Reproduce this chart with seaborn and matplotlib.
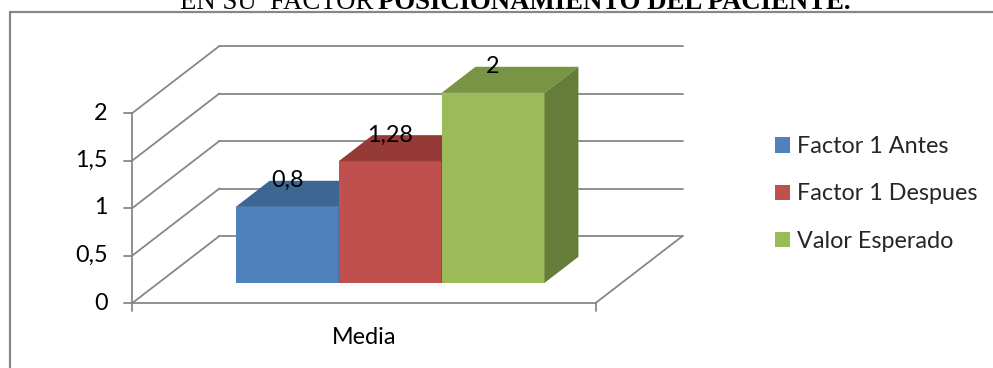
import matplotlib
matplotlib.use("Agg")
import matplotlib.pyplot as plt
from matplotlib.transforms import Affine2D
from matplotlib.patches import Polygon, Patch
from matplotlib.lines import Line2D
import seaborn as sns
import pandas as pd

# ---------------- data ----------------
categories = ["Media"]
series = ["Factor 1 Antes", "Factor 1 Despues", "Valor Esperado"]
values = [0.8, 1.28, 2.0]
value_labels = ["0,8", "1,28", "2"]
y_ticks = [0, 0.5, 1, 1.5, 2]
y_tick_labels = ["0", "0,5", "1", "1,5", "2"]
title_regular = "EN SU  FACTOR"
title_bold = "POSICIONAMIENTO DEL PACIENTE."

front_colors = ["#4F81BD", "#C0504D", "#9BBB59"]
top_colors = ["#3E6695", "#953A37", "#789445"]
side_colors = ["#33557D", "#7E302D", "#667D39"]
grid_color = "#878787"

df = pd.DataFrame({"categoria": [categories[0]] * len(series),
                   "serie": series, "valor": values})

# ---------------- layout ----------------
W, H = 993, 368
sns.set_style("white")
plt.rcParams["font.family"] = ["Lato", "DejaVu Sans"]
FS = 16.8

fig = plt.figure(figsize=(W / 100, H / 100), dpi=100)
ax = fig.add_axes([0, 0, 1, 1])

sns.barplot(data=df, x="categoria", y="valor", hue="serie", hue_order=series,
            palette=front_colors, saturation=1, width=0.8, legend=False,
            edgecolor="none", linewidth=0, ax=ax)

# pixel mapping of the front plane
X0, SX = 364, 386.0   # px of category centre, px per x-unit
Y0, SY = 303, 95.0    # px (from top) of value 0, px per value unit
ax.set_xlim((0 - X0) / SX, (W - X0) / SX)
ax.set_ylim((Y0 - H) / SY, Y0 / SY)
ax.set_axis_off()

DX, DY = 87 / SX, 67 / SY          # full depth of the 3-D box
F_FRONT, F_BACK = 0.30, 0.69       # bar front/back as fraction of depth
XL, XR = -0.6, 0.6                 # floor extent
lw = 1.3

# walls / gridlines
for t in y_ticks:
    ax.plot([XL, XL + DX], [t, t + DY], color=grid_color, lw=lw, zorder=1)
    ax.plot([XL + DX, XR + DX], [t + DY, t + DY], color=grid_color, lw=lw, zorder=1)
# floor
ax.plot([XL, XR], [0, 0], color=grid_color, lw=lw, zorder=1)
ax.plot([XR, XR + DX], [0, DY], color=grid_color, lw=lw, zorder=1)
# vertical axis
ax.plot([XL, XL], [0, y_ticks[-1]], color=grid_color, lw=lw, zorder=1)
tick_x = 8 / SX
tick_y = 8 / SY
for t, lab in zip(y_ticks, y_tick_labels):
    ax.plot([XL - tick_x, XL], [t, t], color=grid_color, lw=lw, zorder=1)
    ax.annotate(lab, xy=(XL, t), xytext=(-25, 0), textcoords="offset pixels",
                ha="right", va="center", fontsize=FS, color="black")
for xe in (XL, XR):
    ax.plot([xe, xe], [0, -tick_y], color=grid_color, lw=lw, zorder=1)

ax.annotate(categories[0], xy=(0, 0), xytext=(0, -35), textcoords="offset pixels",
            ha="center", va="center", fontsize=FS, color="black")

# 3-D bars
fx, fy = DX * F_FRONT, DY * F_FRONT
bx, by = DX * F_BACK, DY * F_BACK
shift = Affine2D().translate(fx, fy) + ax.transData
bars = [p for p in ax.patches]
for i, p in enumerate(bars):
    p.set_transform(shift)
    p.set_zorder(3 + i)
    x0 = p.get_x()
    x1 = x0 + p.get_width()
    h = p.get_height()
    top = Polygon([(x0 + fx, h + fy), (x1 + fx, h + fy), (x1 + bx, h + by), (x0 + bx, h + by)],
                  closed=True, facecolor=top_colors[i], edgecolor="none", zorder=3 + i)
    side = Polygon([(x1 + fx, fy), (x1 + fx, h + fy), (x1 + bx, h + by), (x1 + bx, by)],
                   closed=True, facecolor=side_colors[i], edgecolor="none", zorder=3 + i)
    ax.add_patch(top)
    ax.add_patch(side)
    ax.text((x0 + x1) / 2 + fx, h + by, value_labels[i], ha="center", va="center",
            fontsize=FS, color="black", zorder=10)

# legend
handles = [Patch(facecolor=c, edgecolor="none") for c in front_colors]
fig.legend(handles, series, loc="center left", bbox_to_anchor=(775 / W, 1 - 194 / H),
           frameon=False, fontsize=FS, handlelength=0.65, handleheight=0.65,
           handletextpad=0.3, labelspacing=1.12, borderpad=0, borderaxespad=0)

# chart frame (top and left edges visible)
fig.add_artist(Line2D([9.5 / W, 1], [1 - 12 / H, 1 - 12 / H], transform=fig.transFigure,
                      color=grid_color, lw=1.6))
fig.add_artist(Line2D([9.5 / W, 9.5 / W], [0, 1 - 12 / H], transform=fig.transFigure,
                      color=grid_color, lw=1.6))

# title (cut at the top edge, as in the source)
fig.text(373 / W, 1 - 9 / H, title_regular, ha="right", va="baseline",
         family="Liberation Serif", fontsize=19.3, color="black")
fig.text(378 / W, 1 - 9 / H, title_bold, ha="left", va="baseline",
         family="Liberation Serif", fontweight="bold", fontsize=19.3, color="black")

fig.savefig("out.png", dpi=100)
